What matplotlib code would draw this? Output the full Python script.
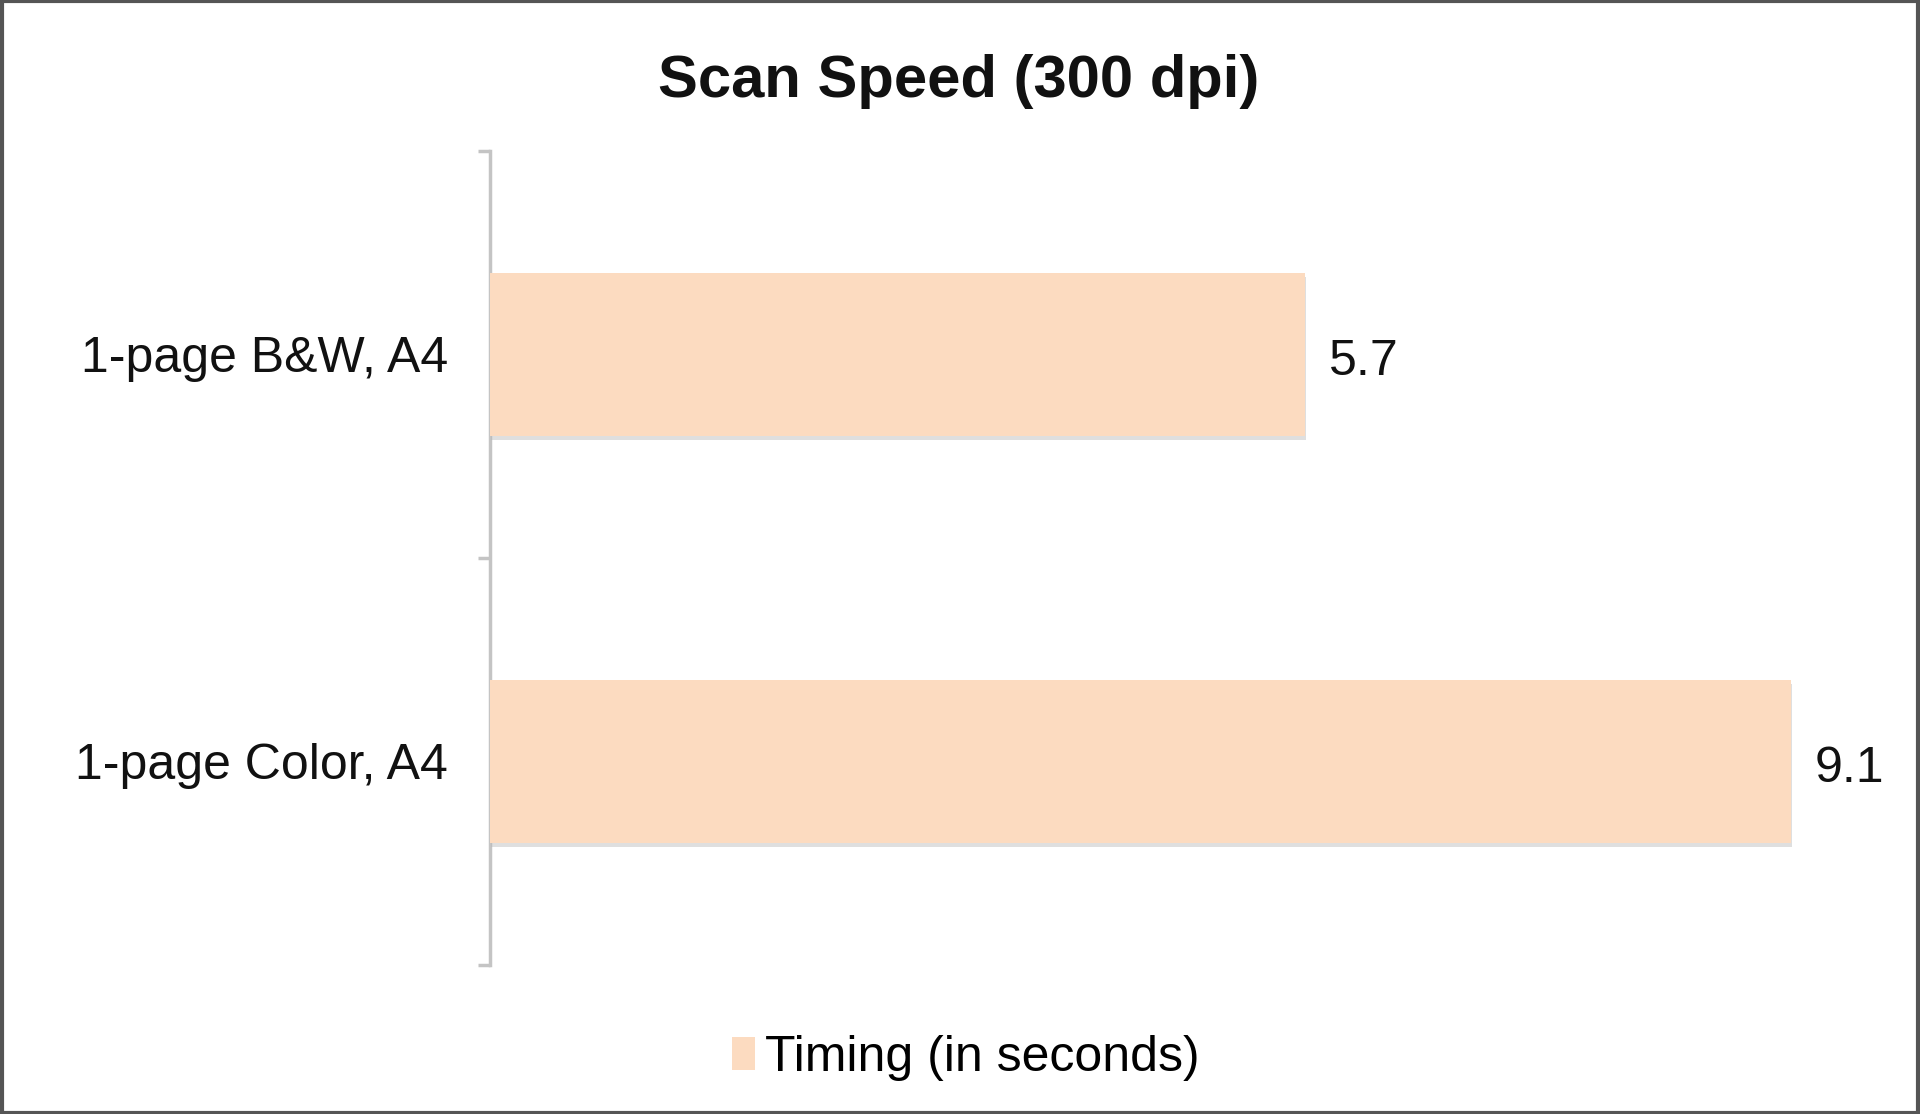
import matplotlib
matplotlib.use("Agg")
import matplotlib.pyplot as plt
import matplotlib.patheffects as pe
from matplotlib.patches import Rectangle, Patch

categories = ["1-page B&W, A4", "1-page Color, A4"]
timing = [5.7, 9.1]
series_name = "Timing (in seconds)"
title = "Scan Speed (300 dpi)"

plt.rcParams['font.family'] = ['Liberation Sans', 'DejaVu Sans']

fig = plt.figure(figsize=(19.2, 11.14), dpi=100)
ax = fig.add_axes([0.2552, 0.1338, 0.7297, 0.7307])

bar_color = "#FCDBC0"
ypos = list(range(len(categories)))
bars = ax.barh(ypos, timing, height=0.4, color=bar_color, edgecolor="none", zorder=3,
               label=series_name)
for b in bars:
    b.set_path_effects([pe.SimplePatchShadow(offset=(1, -3), shadow_rgbFace="#B8B8B8", alpha=0.45),
                        pe.Normal()])

for y, v in zip(ypos, timing):
    ax.annotate(f"{v}", xy=(v, y), xytext=(24, -8), textcoords="offset pixels",
                va="center", ha="left", fontsize=36, color="#111111")

ax.set_xlim(0, 9.8)
ax.set_ylim(len(categories) - 0.5, -0.5)
ax.set_yticks(ypos)
ax.set_yticklabels(categories, fontsize=36, color="#111111", va="center_baseline")
ax.set_yticks([i - 0.5 for i in range(len(categories) + 1)], minor=True)
ax.tick_params(axis='y', which='major', length=0, pad=30)
ax.tick_params(axis='y', which='minor', length=9, width=2.5, color="#C4C4C4")
ax.set_xticks([])
for s in ["top", "right", "bottom"]:
    ax.spines[s].set_visible(False)
ax.spines["left"].set_color("#C4C4C4")
ax.spines["left"].set_linewidth(2.5)

fig.text(0.4995, 0.927, title, ha="center", va="center", fontsize=43, fontweight="bold", color="#111111")

handle = Patch(facecolor=bar_color, edgecolor="none")
fig.legend([handle], [series_name], loc="center", bbox_to_anchor=(0.503, 0.050),
           frameon=False, fontsize=36, handlelength=0.45, handleheight=0.65, handletextpad=0.2)

fig.patches.append(Rectangle((0.0008, 0.0013), 0.9984, 0.9974, transform=fig.transFigure,
                             fill=False, edgecolor="#555555", linewidth=3))

fig.savefig("out.png", dpi=100, facecolor="white")
